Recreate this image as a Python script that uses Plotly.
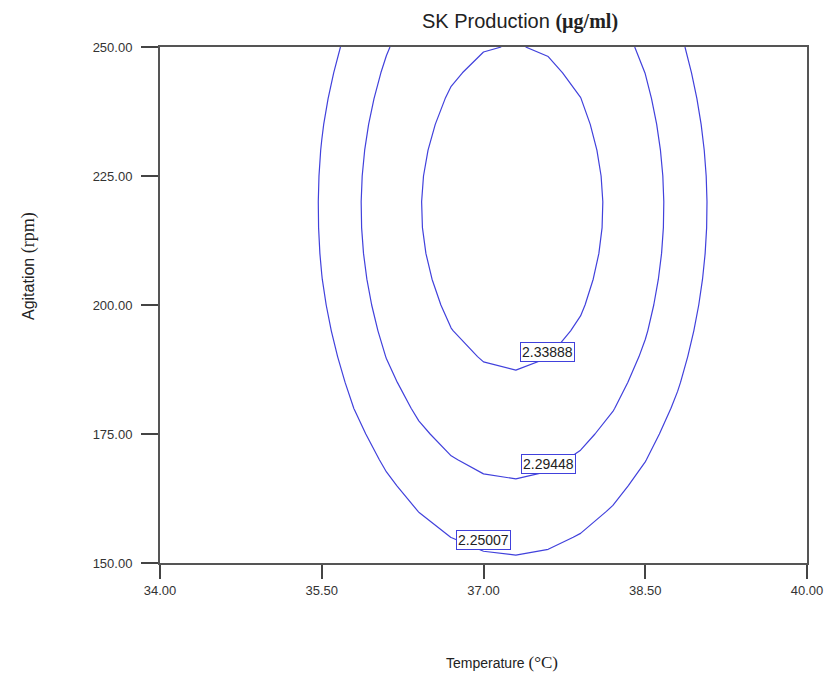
import numpy as np
import plotly.graph_objects as go

# Factor ranges (actual units) and the evaluation grid used for the contour
temperature_range = [34.0, 40.0]      # °C
agitation_range = [150.0, 250.0]      # rpm
grid_points = 21

# Fitted quadratic response-surface model in coded units
# x1 = (T - 37) / 3, x2 = (A - 200) / 50
coef_intercept = 2.3525
coef_x1 = 0.0567
coef_x2 = 0.0475
coef_x1x1 = -0.315
coef_x2x2 = -0.0625
coef_x1x2 = 0.0

# Contour levels drawn on the plot
contour_levels = [2.25007, 2.29448, 2.33888]

# Where each contour value label sits (T, A)
label_temperature = [37.00, 37.60, 37.59]
label_agitation = [154.5, 169.1, 190.8]

x_ticks = [34.0, 35.5, 37.0, 38.5, 40.0]
y_ticks = [150.0, 175.0, 200.0, 225.0, 250.0]

T = np.linspace(temperature_range[0], temperature_range[1], grid_points)
A = np.linspace(agitation_range[0], agitation_range[1], grid_points)
TT, AA = np.meshgrid(T, A)
x1 = (TT - 37.0) / 3.0
x2 = (AA - 200.0) / 50.0
Z = (coef_intercept + coef_x1 * x1 + coef_x2 * x2
     + coef_x1x1 * x1 ** 2 + coef_x2x2 * x2 ** 2 + coef_x1x2 * x1 * x2)

line_blue = "#4141dc"

fig = go.Figure()
for lvl in contour_levels:
    fig.add_trace(go.Contour(
        x=T, y=A, z=Z,
        contours=dict(type="constraint", operation="=", value=lvl),
        line=dict(color=line_blue, width=1.2, smoothing=0),
        showscale=False, hoverinfo="skip",
    ))

for lvl, tx, ay in zip(contour_levels, label_temperature, label_agitation):
    fig.add_annotation(
        x=tx, y=ay, xref="x", yref="y", text=f"{lvl:.5f}",
        showarrow=False, bgcolor="white", bordercolor=line_blue,
        borderwidth=1, borderpad=1,
        font=dict(family="Liberation Sans, Arial", size=14, color="#222"),
    )

W, H = 839, 673
L, R, TOP, B = 160, 32, 47, 110


def px_to_paper(px, py):
    return (px - L) / (W - L - R), 1 - (py - TOP) / (H - TOP - B)


serif = "font-family:'Liberation Serif', 'Times New Roman', serif"
titles = [
    (520, 22, 0,
     f"SK Production <span style=\"{serif}; font-weight:bold\">(µg/ml)</span>", 20),
    (502, 662, 0,
     f"Temperature <span style=\"{serif}; font-size:17px\">(°C)</span>", 14),
    (28, 266, -90,
     f"Agitation <span style=\"{serif}; font-size:18px\">(rpm)</span>", 16),
]
for px, py, angle, text, size in titles:
    ax, ay = px_to_paper(px, py)
    fig.add_annotation(
        x=ax, y=ay, xref="paper", yref="paper", xanchor="center",
        yanchor="middle", showarrow=False, textangle=angle, text=text,
        font=dict(family="Liberation Sans, Arial", size=size, color="#222"),
    )

axis_common = dict(
    showline=True, linecolor="#555", linewidth=2, mirror=True,
    showgrid=False, zeroline=False, ticks="outside", tickcolor="#444",
    tickwidth=1.5, tickfont=dict(family="Liberation Sans, Arial", size=13, color="#333"),
)
fig.update_xaxes(range=temperature_range, tickvals=x_ticks,
                 ticktext=[f"{v:.2f}" for v in x_ticks], ticklen=14,
                 **axis_common)
fig.update_yaxes(range=agitation_range, tickvals=y_ticks,
                 ticktext=[f"{v:.2f}" for v in y_ticks], ticklen=17,
                 ticklabelstandoff=6, **axis_common)
fig.update_layout(
    width=W, height=H, margin=dict(l=L, r=R, t=TOP, b=B),
    paper_bgcolor="white", plot_bgcolor="white", showlegend=False,
)

fig.write_html("out.html")
